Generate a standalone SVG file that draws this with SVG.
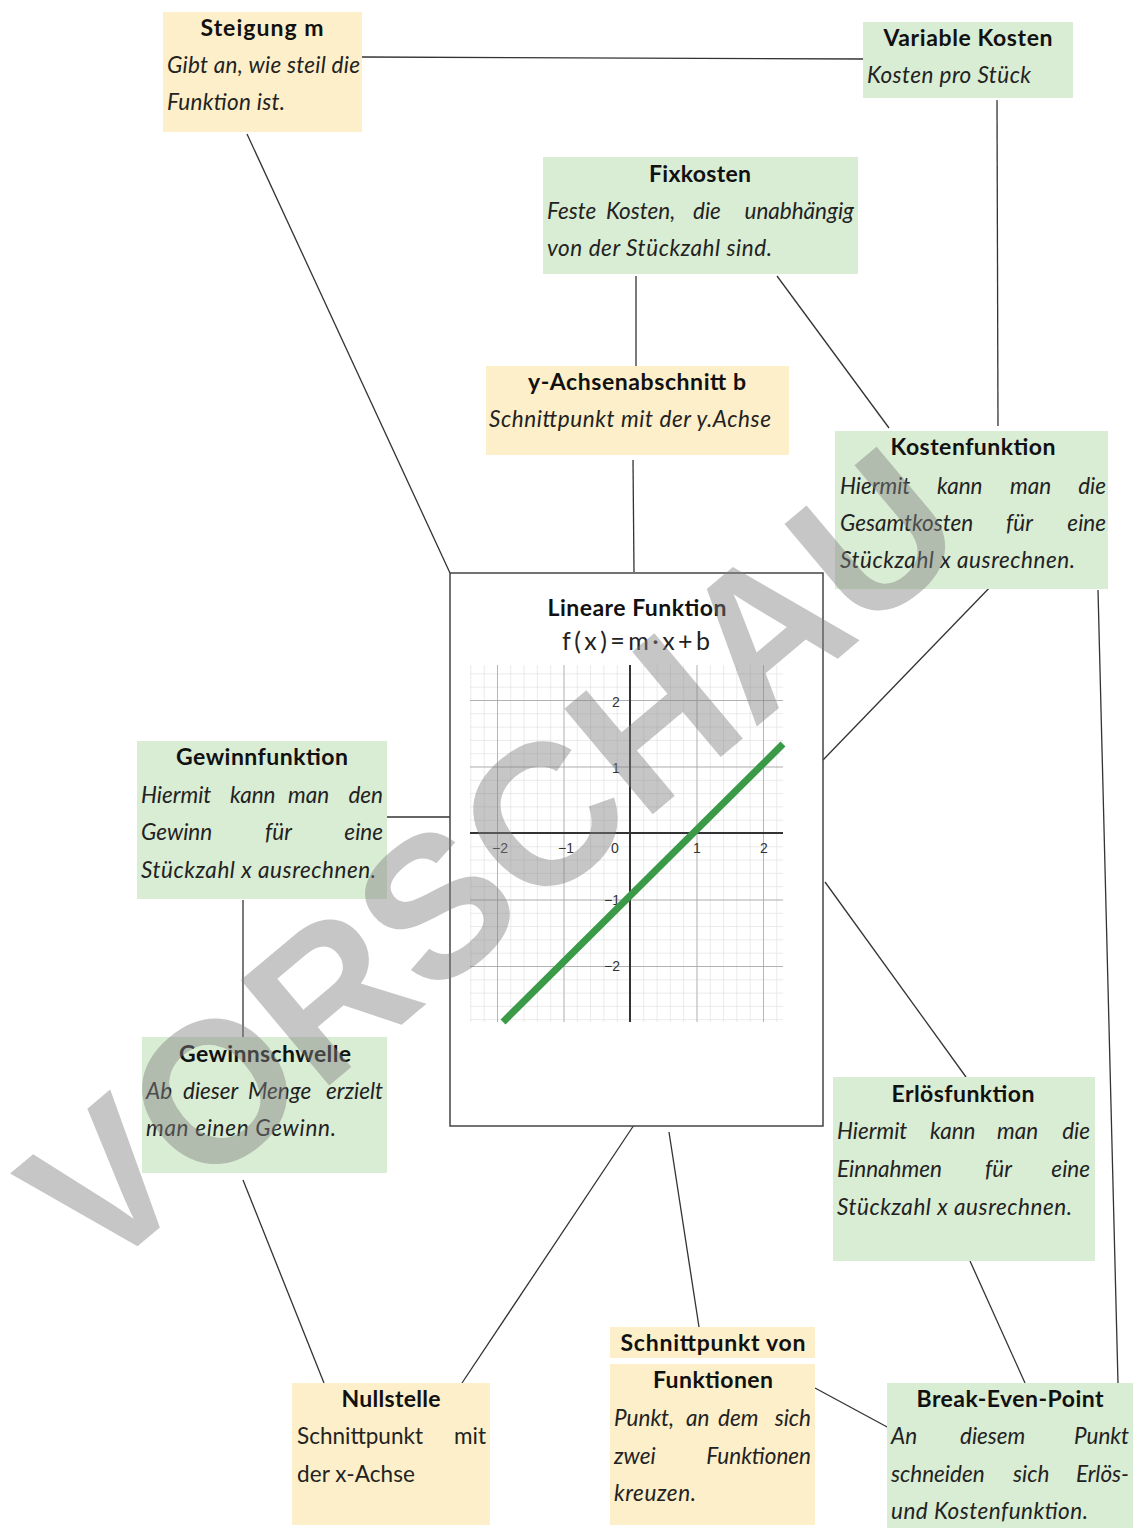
<svg xmlns="http://www.w3.org/2000/svg" width="1134" height="1528" viewBox="0 0 1134 1528">
<defs>
<style>
.y{fill:#fcefc9}
.g{fill:#d9ecd4}
.t{font-family:Lato,"Noto Sans",sans-serif;font-weight:700;font-size:23px;fill:#111;text-anchor:middle}
.b{font-family:Lato,"Noto Sans",sans-serif;font-style:italic;font-size:22.5px;fill:#222}
.r{font-family:Lato,"Noto Sans",sans-serif;font-size:22.5px;fill:#222}
.e{text-anchor:end}
.c line{stroke:#333;stroke-width:1.3}
.ax{font-family:"Liberation Sans",Arial,sans-serif;font-size:14px;fill:#333;text-anchor:middle}
</style>
<pattern id="minor" patternUnits="userSpaceOnUse" x="630" y="833" width="13.3" height="13.3">
<path d="M0 0H13.3M0 0V13.3" stroke="#d6d6d6" stroke-width="1" fill="none"/>
</pattern>
<pattern id="major" patternUnits="userSpaceOnUse" x="630" y="833" width="66.5" height="66.5">
<path d="M0 0H66.5M0 0V66.5" stroke="#a0a0a0" stroke-width="1.4" fill="none"/>
</pattern>
</defs>
<rect width="1134" height="1528" fill="#fff"/>

<g class="c" id="connectors">
<line x1="362" y1="57" x2="863" y2="59"/>
<line x1="247" y1="134" x2="450" y2="573"/>
<line x1="997" y1="100" x2="998" y2="426"/>
<line x1="636" y1="276" x2="636" y2="366"/>
<line x1="777" y1="276" x2="889" y2="428"/>
<line x1="633" y1="460" x2="634" y2="572"/>
<line x1="995" y1="582" x2="823" y2="760"/>
<line x1="1098" y1="590" x2="1118" y2="1383"/>
<line x1="387" y1="817" x2="450" y2="817"/>
<line x1="243" y1="900" x2="243" y2="1037"/>
<line x1="243" y1="1180" x2="324" y2="1383"/>
<line x1="825" y1="882" x2="966" y2="1077"/>
<line x1="636" y1="1122" x2="462" y2="1383"/>
<line x1="669" y1="1132" x2="699" y2="1327"/>
<line x1="815" y1="1388" x2="889" y2="1428"/>
<line x1="970" y1="1261" x2="1025" y2="1383"/>
</g>

<g id="steigung">
<rect class="y" x="163" y="12" width="199" height="120"/>
<text class="t" x="262" y="36" textLength="123">Steigung m</text>
<text class="b" x="167" y="73" textLength="193">Gibt an, wie steil die</text>
<text class="b" x="167" y="110" textLength="118">Funktion ist.</text>
</g>

<g id="variable-kosten">
<rect class="g" x="863" y="22" width="210" height="76"/>
<text class="t" x="968" y="46" textLength="169">Variable Kosten</text>
<text class="b" x="867" y="83" textLength="164">Kosten pro Stück</text>
</g>

<g id="fixkosten">
<rect class="g" x="543" y="157" width="315" height="117"/>
<text class="t" x="700" y="182" textLength="102">Fixkosten</text>
<text class="b" y="219"><tspan x="547">Feste</tspan><tspan x="606">Kosten,</tspan><tspan x="693">die</tspan></text>
<text class="b e" x="854" y="219">unabhängig</text>
<text class="b" x="547" y="256" textLength="225">von der Stückzahl sind.</text>
</g>

<g id="y-achsenabschnitt">
<rect class="y" x="486" y="366" width="303" height="89"/>
<text class="t" x="637" y="390" textLength="218">y-Achsenabschnitt b</text>
<text class="b" x="489" y="427" textLength="282">Schnittpunkt mit der y.Achse</text>
</g>

<g id="kostenfunktion">
<rect class="g" x="835" y="431" width="273" height="158"/>
<text class="t" x="973" y="455" textLength="165">Kostenfunktion</text>
<text class="b" y="494"><tspan x="840">Hiermit</tspan><tspan x="937">kann</tspan><tspan x="1010">man</tspan></text>
<text class="b e" x="1106" y="494">die</text>
<text class="b" y="531"><tspan x="840">Gesamtkosten</tspan><tspan x="1006">für</tspan></text>
<text class="b e" x="1106" y="531">eine</text>
<text class="b" x="840" y="568" textLength="235">Stückzahl x ausrechnen.</text>
</g>

<g id="lineare-funktion">
<rect x="450" y="573" width="373" height="553" fill="#fff" stroke="#444" stroke-width="1.5"/>
<text class="t" x="637" y="616" textLength="179">Lineare Funktion</text>
<text x="636" y="650" font-family="Lato,'Noto Sans',sans-serif" font-size="25" fill="#222" text-anchor="middle" textLength="148">f(x)=m·x+b</text>
<rect x="470" y="665" width="313" height="357" fill="url(#minor)"/>
<rect x="470" y="665" width="313" height="357" fill="url(#major)"/>
<line x1="470" y1="833" x2="783" y2="833" stroke="#333" stroke-width="2"/>
<line x1="630" y1="665" x2="630" y2="1022" stroke="#333" stroke-width="2"/>
<text class="ax" x="616" y="707">2</text>
<text class="ax" x="616" y="773">1</text>
<text class="ax" x="612" y="905">−1</text>
<text class="ax" x="612" y="971">−2</text>
<text class="ax" x="500" y="853">−2</text>
<text class="ax" x="566" y="853">−1</text>
<text class="ax" x="615" y="853">0</text>
<text class="ax" x="697" y="853">1</text>
<text class="ax" x="764" y="853">2</text>
<line x1="503" y1="1022" x2="783" y2="744" stroke="#3a9a48" stroke-width="7"/>
</g>

<g id="gewinnfunktion">
<rect class="g" x="137" y="741" width="250" height="158"/>
<text class="t" x="262" y="765" textLength="172">Gewinnfunktion</text>
<text class="b" y="803"><tspan x="141">Hiermit</tspan><tspan x="230">kann</tspan><tspan x="288">man</tspan></text>
<text class="b e" x="383" y="803">den</text>
<text class="b" y="840"><tspan x="141">Gewinn</tspan><tspan x="265">für</tspan></text>
<text class="b e" x="383" y="840">eine</text>
<text class="b" x="141" y="878" textLength="235">Stückzahl x ausrechnen.</text>
</g>

<g id="gewinnschwelle">
<rect class="g" x="142" y="1037" width="245" height="136"/>
<text class="t" x="265" y="1062" textLength="172">Gewinnschwelle</text>
<text class="b" y="1099"><tspan x="146">Ab</tspan><tspan x="183">dieser</tspan><tspan x="248">Menge</tspan></text>
<text class="b e" x="383" y="1099">erzielt</text>
<text class="b" x="146" y="1136" textLength="190">man einen Gewinn.</text>
</g>

<g id="erloesfunktion">
<rect class="g" x="833" y="1077" width="262" height="184"/>
<text class="t" x="963" y="1102" textLength="143">Erlösfunktion</text>
<text class="b" y="1139"><tspan x="837">Hiermit</tspan><tspan x="930">kann</tspan><tspan x="997">man</tspan></text>
<text class="b e" x="1090" y="1139">die</text>
<text class="b" y="1177"><tspan x="837">Einnahmen</tspan><tspan x="985">für</tspan></text>
<text class="b e" x="1090" y="1177">eine</text>
<text class="b" x="837" y="1215" textLength="235">Stückzahl x ausrechnen.</text>
</g>

<g id="nullstelle">
<rect class="y" x="292" y="1383" width="198" height="142"/>
<text class="t" x="391" y="1407" textLength="99">Nullstelle</text>
<text class="r" x="297" y="1444">Schnittpunkt</text>
<text class="r e" x="486" y="1444">mit</text>
<text class="r" x="297" y="1482" textLength="118">der x-Achse</text>
</g>

<g id="schnittpunkt">
<rect class="y" x="610" y="1327" width="205" height="31"/>
<rect class="y" x="610" y="1364" width="205" height="161"/>
<text class="t" x="713" y="1351" textLength="185">Schnittpunkt von</text>
<text class="t" x="713" y="1388" textLength="120">Funktionen</text>
<text class="b" y="1426"><tspan x="614">Punkt,</tspan><tspan x="686">an</tspan><tspan x="718">dem</tspan></text>
<text class="b e" x="811" y="1426">sich</text>
<text class="b" x="614" y="1464">zwei</text>
<text class="b e" x="811" y="1464">Funktionen</text>
<text class="b" x="614" y="1501" textLength="82">kreuzen.</text>
</g>

<g id="break-even">
<rect class="g" x="887" y="1383" width="246" height="145"/>
<text class="t" x="1010" y="1407" textLength="187">Break-Even-Point</text>
<text class="b" y="1444"><tspan x="891">An</tspan><tspan x="960">diesem</tspan></text>
<text class="b e" x="1129" y="1444">Punkt</text>
<text class="b" y="1482"><tspan x="891">schneiden</tspan><tspan x="1013">sich</tspan></text>
<text class="b e" x="1129" y="1482">Erlös-</text>
<text class="b" x="891" y="1519" textLength="197">und Kostenfunktion.</text>
</g>

<text x="536" y="912" transform="rotate(-40 536 912)" text-anchor="middle" font-family="'Liberation Sans',Arial,sans-serif" font-weight="bold" font-size="200" fill="#808080" fill-opacity="0.45">VORSCHAU</text>
</svg>
